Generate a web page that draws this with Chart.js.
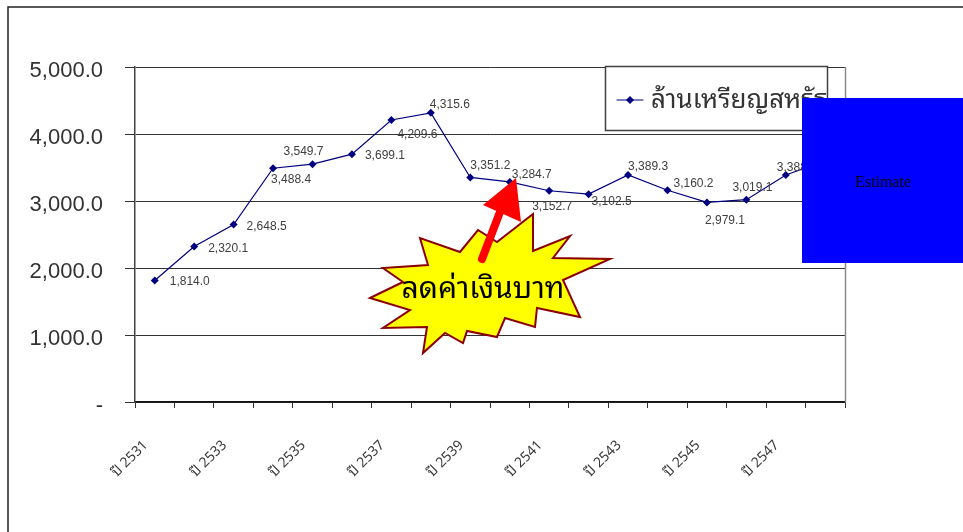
<!DOCTYPE html>
<html>
<head>
<meta charset="utf-8">
<script src="https://cdn.jsdelivr.net/npm/chart.js@4/dist/chart.umd.min.js"></script>
<style>
  html, body { margin: 0; padding: 0; background: #ffffff; }
  #wrap { position: relative; width: 963px; height: 532px; }
</style>
</head>
<body>
<div id="wrap"><canvas id="c"></canvas></div>
<script>
// ---- data ----
const years = ['ปี 2531','ปี 2532','ปี 2533','ปี 2534','ปี 2535','ปี 2536','ปี 2537','ปี 2538','ปี 2539',
               'ปี 2540','ปี 2541','ปี 2542','ปี 2543','ปี 2544','ปี 2545','ปี 2546','ปี 2547','ปี 2548'];
const usdMillion = [1814.0, 2320.1, 2648.5, 3488.4, 3549.7, 3699.1, 4209.6, 4315.6, 3351.2,
                    3284.7, 3152.7, 3102.5, 3389.3, 3160.2, 2979.1, 3019.1, 3388.0, 3600.0];
const seriesName = 'ล้านเหรียญสหรัฐ';
const yTicks = [0, 1000, 2000, 3000, 4000, 5000];
const calloutText = 'ลดค่าเงินบาท';
const estimateText = 'Estimate';

const THAI = "'Noto Sans Thai Looped','Noto Serif Thai','Loma','Garuda','Norasi','Kinnari','Laksaman','Waree','Umpush','Sawasdee','Tlwg Typo','Noto Sans Thai',sans-serif";
const fmt = v => v.toLocaleString('en-US', {minimumFractionDigits: 1, maximumFractionDigits: 1});

// label offsets relative to each point (style, not data)
const labelOffsets = [[15,1],[14,2],[13,2],[-2,11],[-29,-12],[13,2],[6,15],[-1,-8],[0,-12],
                      [2,-7],[-17,16],[3,8],[0,-8],[6,-7],[-2,18],[-14,-12],[-9,-7],[0,-10]];

const decor = {
  id: 'decor',
  beforeDraw(chart) {
    const ctx = chart.ctx;
    ctx.save();
    ctx.fillStyle = '#ffffff';
    ctx.fillRect(0, 0, chart.width, chart.height);
    ctx.strokeStyle = '#222222';
    ctx.lineWidth = 1.5;
    ctx.beginPath();
    ctx.moveTo(8, chart.height);
    ctx.lineTo(8, 7);
    ctx.lineTo(chart.width, 7);
    ctx.stroke();
    ctx.restore();
  },
  afterDatasetsDraw(chart) {
    const ctx = chart.ctx;
    const meta = chart.getDatasetMeta(0);
    const a = chart.chartArea;
    ctx.save();
    ctx.strokeStyle = '#8a8a8a';
    ctx.lineWidth = 1.5;
    ctx.beginPath();
    ctx.moveTo(a.right + 0.5, a.top);
    ctx.lineTo(a.right + 0.5, a.bottom);
    ctx.stroke();
    ctx.font = '12px "Liberation Sans", Arial, sans-serif';
    ctx.fillStyle = '#404040';
    ctx.textAlign = 'left';
    ctx.textBaseline = 'middle';
    meta.data.forEach((pt, i) => {
      const o = labelOffsets[i] || [4, -8];
      ctx.fillText(fmt(usdMillion[i]), pt.x + o[0], pt.y + o[1]);
    });
    ctx.restore();
  },
  afterDraw(chart) {
    const ctx = chart.ctx;
    const a = chart.chartArea;
    const X = v => a.left + v, Y = v => a.top + v;
    ctx.save();
    const star = [[370,298],[403,282],[383,268],[428,265],[420,238],[460,252],[478,230],[497,242],
                  [533,214],[533,251],[570,236],[553,258],[610,259],[563,280],[580,317],[537,308],
                  [535,327],[505,318],[497,337],[467,331],[463,343],[445,333],[423,353],[427,327],
                  [383,328],[410,310]];
    ctx.beginPath();
    star.forEach(([x, y], i) => {
      const px = X(x - 135), py = Y(y - 67);
      if (i === 0) ctx.moveTo(px, py); else ctx.lineTo(px, py);
    });
    ctx.closePath();
    ctx.fillStyle = '#ffff00';
    ctx.fill();
    ctx.strokeStyle = '#8b0000';
    ctx.lineWidth = 2;
    ctx.stroke();
    ctx.strokeStyle = '#ff0000';
    ctx.fillStyle = '#ff0000';
    ctx.lineWidth = 8;
    ctx.lineCap = 'round';
    ctx.beginPath();
    ctx.moveTo(X(482 - 135), Y(259 - 67));
    ctx.lineTo(X(500 - 135), Y(212 - 67));
    ctx.stroke();
    ctx.beginPath();
    ctx.moveTo(X(516 - 135), Y(178 - 67));
    ctx.lineTo(X(483 - 135), Y(205 - 67));
    ctx.lineTo(X(521 - 135), Y(222 - 67));
    ctx.closePath();
    ctx.fill();
    ctx.fillStyle = '#000000';
    ctx.font = '30px ' + THAI;
    ctx.textAlign = 'center';
    ctx.textBaseline = 'middle';
    ctx.fillText(calloutText, X(483 - 135), Y(290 - 67));
    ctx.fillStyle = '#ffffff';
    ctx.fillRect(X(605 - 135), Y(66 - 67), 222, 64);
    ctx.strokeStyle = '#404040';
    ctx.lineWidth = 1.5;
    ctx.strokeRect(X(605 - 135) + 0.5, Y(66 - 67) + 0.5, 222, 64);
    ctx.strokeStyle = '#000080';
    ctx.lineWidth = 1.2;
    ctx.beginPath();
    ctx.moveTo(X(617 - 135), Y(100 - 67));
    ctx.lineTo(X(643 - 135), Y(100 - 67));
    ctx.stroke();
    ctx.fillStyle = '#000080';
    ctx.beginPath();
    const cx = X(630 - 135), cy = Y(100 - 67);
    ctx.moveTo(cx, cy - 4); ctx.lineTo(cx + 4, cy); ctx.lineTo(cx, cy + 4); ctx.lineTo(cx - 4, cy);
    ctx.closePath(); ctx.fill();
    ctx.fillStyle = '#333333';
    ctx.font = '26px ' + THAI;
    ctx.textAlign = 'left';
    ctx.textBaseline = 'middle';
    ctx.fillText(seriesName, X(651 - 135), Y(101 - 67));
    ctx.fillStyle = '#0000ff';
    ctx.fillRect(802, 98, 161, 165);
    ctx.fillStyle = '#000000';
    ctx.font = '16px "Liberation Serif", "Times New Roman", serif';
    ctx.textAlign = 'center';
    ctx.fillText(estimateText, 883, 183);
    ctx.restore();
  }
};

new Chart(document.getElementById('c'), {
  type: 'line',
  data: {
    labels: years,
    datasets: [{
      label: seriesName,
      data: usdMillion,
      borderColor: '#000080',
      backgroundColor: '#000080',
      borderWidth: 1.2,
      pointStyle: 'rectRot',
      pointRadius: 4,
      pointBorderWidth: 0,
      pointBackgroundColor: '#000080',
      tension: 0,
      fill: false
    }]
  },
  options: {
    responsive: true,
    maintainAspectRatio: false,
    animation: false,
    layout: { padding: { top: 67, right: 118, left: 0, bottom: 0 } },
    plugins: { legend: { display: false }, tooltip: { enabled: false } },
    scales: {
      x: {
        type: 'category',
        offset: true,
        grid: { offset: true, drawOnChartArea: false, drawTicks: true, tickLength: 6, color: '#333333' },
        border: { color: '#111111', width: 1.5 },
        ticks: {
          autoSkip: false, maxRotation: 45, minRotation: 45,
          padding: 29,
          labelOffset: -9,
          color: '#3a3a3a',
          font: { family: THAI, size: 14 },
          callback: (v, i) => (i % 2 === 0 ? years[i] : '')
        },
        afterFit: s => { s.height = 130; }
      },
      y: {
        min: 0, max: 5000,
        afterBuildTicks: s => { s.ticks = yTicks.map(v => ({ value: v })); },
        grid: { color: '#333333', lineWidth: 1, tickLength: 10 },
        border: { color: '#444444', width: 1.5 },
        ticks: {
          padding: 22,
          labelOffset: 4,
          color: '#333333',
          font: { family: '"Liberation Sans", Arial, sans-serif', size: 22 },
          callback: v => (v === 0 ? '-' : fmt(v))
        },
        afterFit: s => { s.width = 135; }
      }
    }
  },
  plugins: [decor]
});
</script>
</body>
</html>
